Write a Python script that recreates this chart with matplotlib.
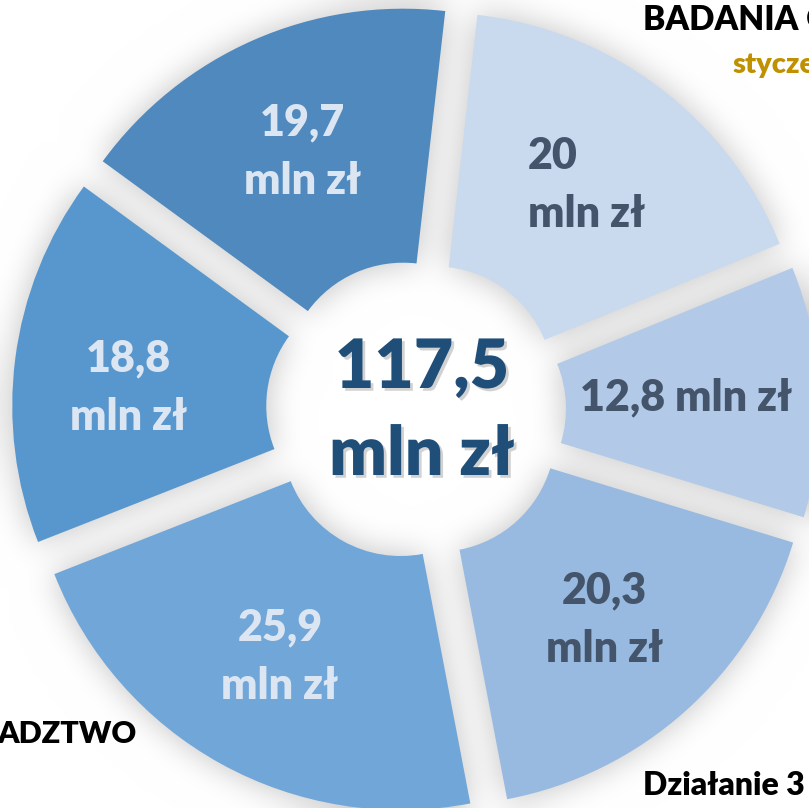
import numpy as np
import matplotlib
matplotlib.use("Agg")
import matplotlib.pyplot as plt
from matplotlib.patches import Wedge
import matplotlib.patheffects as pe

# ---------------- data ----------------
values = [20.0, 12.8, 20.3, 25.9, 18.8, 19.7]
value_labels = ["20\nmln zł", "12,8 mln zł", "20,3\nmln zł",
                "25,9\nmln zł", "18,8\nmln zł", "19,7\nmln zł"]
seg_colors = ["#C9D9EE", "#B2CAE7", "#98BAE1", "#71A6D9", "#5897CE", "#4F89BE"]
label_colors = ["#44546A", "#44546A", "#44546A", "#DCE6F2", "#DCE6F2", "#DCE6F2"]
total_text = ["117,5", "mln zł"]
corner_texts = ["BADANIA O", "styczeń", "ADZTWO", "Działanie 3"]

# ---------------- layout ----------------
W, H = 809, 808
FONT = "Lato"
WEIGHT = "heavy"
fig = plt.figure(figsize=(W / 100, H / 100), dpi=100)
ax = fig.add_axes([0, 0, 1, 1])
ax.set_xlim(0, W)
ax.set_ylim(0, H)
ax.axis("off")

cx, cy = 416, 398          # donut centre
start = 6.5                # degrees clockwise from top
explode = 32
r_out = 372
r_in = 118
label_r = 282

total = sum(values)
spans = np.array(values) / total * 360.0
a1s = start + np.concatenate([[0], np.cumsum(spans)[:-1]])
a2s = a1s + spans

# ---------------- soft shadow background ----------------
X, Y = np.meshgrid(np.arange(W) + 0.5, H - (np.arange(H) + 0.5))
mask = np.zeros((H, W))
centres = []
for a1, a2 in zip(a1s, a2s):
    am = np.deg2rad((a1 + a2) / 2)
    ox, oy = cx + explode * np.sin(am), cy + explode * np.cos(am)
    centres.append((ox, oy))
    dx, dy = X - ox, Y - oy
    rr = np.hypot(dx, dy)
    ang = (np.degrees(np.arctan2(dx, dy)) - a1) % 360
    m = (rr >= r_in) & (rr <= r_out) & (ang <= (a2 - a1))
    mask = np.maximum(mask, m.astype(float))


def box_blur(a, r):
    k = 2 * r + 1
    p = np.pad(a, ((0, 0), (r + 1, r)), mode="edge")
    c = np.cumsum(p, axis=1)
    a = (c[:, k:] - c[:, :-k]) / k
    p = np.pad(a, ((r + 1, r), (0, 0)), mode="edge")
    c = np.cumsum(p, axis=0)
    return (c[k:, :] - c[:-k, :]) / k


blur = mask
for _ in range(3):
    blur = box_blur(blur, 15)
grey = 1 - 0.24 * np.clip(blur, 0, 1)
img = np.dstack([grey, grey, grey])
ax.imshow(img, extent=(0, W, 0, H), origin="upper", interpolation="bilinear",
          zorder=0, aspect="auto")

# ---------------- segments ----------------
for (a1, a2), (ox, oy), col in zip(zip(a1s, a2s), centres, seg_colors):
    ax.add_patch(Wedge((ox, oy), r_out, 90 - a2, 90 - a1, width=r_out - r_in,
                       facecolor=col, edgecolor="none", zorder=2))

# ---------------- labels ----------------
for i, ((a1, a2), lab, lc) in enumerate(zip(zip(a1s, a2s), value_labels, label_colors)):
    am = np.deg2rad((a1 + a2) / 2)
    x = cx + label_r * np.sin(am)
    y = cy + label_r * np.cos(am)
    ha, malign = "center", "center"
    if "\n" not in lab:
        ha = "left"
        x -= 118
    if i == 0:
        malign = "left"
    if i == 4:
        y -= 14
        x -= 8
    ax.text(x, y, lab, ha=ha, va="center", multialignment=malign,
            fontsize=31, fontweight=WEIGHT, color=lc, family=FONT,
            linespacing=1.55, zorder=3)

shadow = [pe.withSimplePatchShadow(offset=(2, -2), shadow_rgbFace="#7F7F7F", alpha=0.35)]
ax.text(cx + 6, H - 388, total_text[0], ha="center", va="baseline", fontsize=49,
        fontweight=WEIGHT, color="#1F4E79", family=FONT, zorder=4, path_effects=shadow)
ax.text(cx + 6, H - 475, total_text[1], ha="center", va="baseline", fontsize=49,
        fontweight=WEIGHT, color="#1F4E79", family=FONT, zorder=4, path_effects=shadow)

# ---------------- cropped titles ----------------
ax.text(643, H - 30, corner_texts[0], ha="left", va="baseline", fontsize=24,
        fontweight=WEIGHT, color="black", family=FONT, zorder=5)
ax.text(733, H - 73, corner_texts[1], ha="left", va="baseline", fontsize=21,
        fontweight=WEIGHT, color="#BF9000", family=FONT, zorder=5)
ax.text(137, H - 743, corner_texts[2], ha="right", va="baseline", fontsize=22,
        fontweight=WEIGHT, color="black", family=FONT, zorder=5)
ax.text(643, H - 795, corner_texts[3], ha="left", va="baseline", fontsize=23,
        fontweight=WEIGHT, color="black", family=FONT, zorder=5)

fig.savefig("out.png", dpi=100)
